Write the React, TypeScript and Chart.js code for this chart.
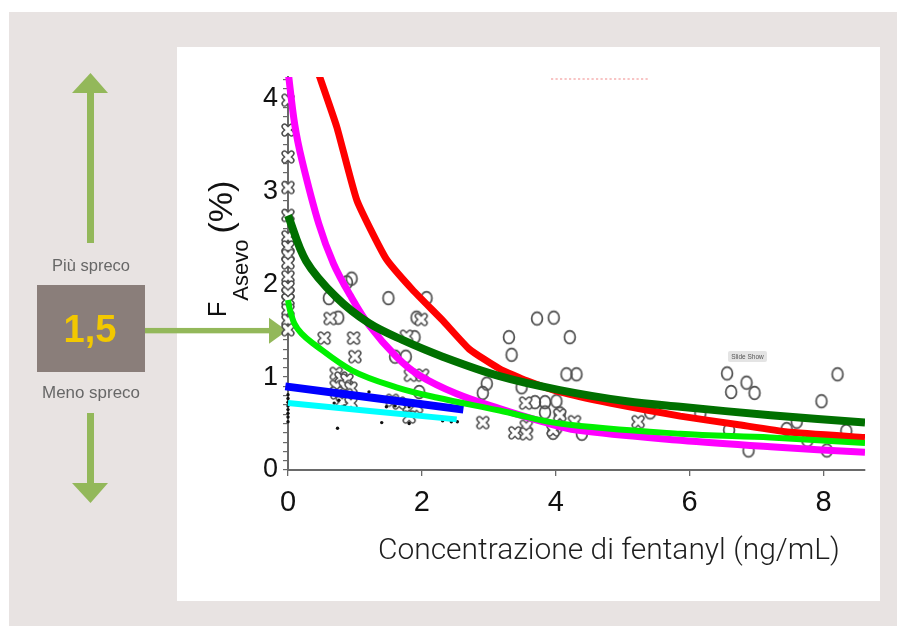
import React, { useEffect, useRef } from 'react';
import { Chart, registerables } from 'chart.js';

Chart.register(...registerables);

const CANVAS_W = 897;
const CANVAS_H = 626;

// axis ranges and ticks
const xMin = 0;
const xMax = 8.62;
const xStep = 2;
const yMin = 0;
const yMax = 4.23;
const yMinorStep = 0.1;

// texts
const xAxisTitle = 'Concentrazione di fentanyl (ng/mL)';
const yTitleMain = 'F';
const yTitleSub = 'Asevo';
const yTitleUnit = '(%)';
const labelMore = 'Più spreco';
const labelLess = 'Meno spreco';
const thresholdLabel = '1,5';
const thresholdValue = 1.5;
const tooltipText = 'Slide Show';

// fitted curves [x, y]
const redCurve = [
  [0.44, 4.3], [0.73, 3.69], [1.03, 2.9], [1.46, 2.28], [1.86, 1.94], [2.31, 1.61],
  [2.71, 1.3], [3.16, 1.09], [3.57, 0.96], [4.06, 0.84], [4.81, 0.72],
  [5.86, 0.58], [6.71, 0.49], [7.46, 0.41], [8.62, 0.35],
];
const magentaCurve = [
  [0, 4.3], [0.1, 3.72], [0.21, 3.33], [0.46, 2.65], [0.68, 2.22], [0.93, 1.88],
  [1.21, 1.56], [1.62, 1.22], [1.96, 1.02], [2.52, 0.82], [3.16, 0.66], [3.8, 0.52],
  [4.31, 0.43], [5.86, 0.32], [7.21, 0.25], [8.62, 0.19],
];
const darkGreenCurve = [
  [0, 2.74], [0.27, 2.25], [0.72, 1.86], [1.21, 1.58], [1.71, 1.4], [2.31, 1.22],
  [3.16, 1.01], [4.06, 0.86], [5.06, 0.74], [5.86, 0.68], [7.21, 0.59], [8.62, 0.51],
];
const limeCurve = [
  [0, 1.83], [0.03, 1.72], [0.1, 1.57], [0.2, 1.47], [0.36, 1.37], [0.96, 1.07],
  [1.62, 0.89], [2.22, 0.78], [3.16, 0.64], [4.06, 0.5], [5.86, 0.39], [7.21, 0.35],
  [8.62, 0.29],
];
const blueLine = [[-0.04, 0.9], [2.62, 0.65]];
const cyanLine = [[0, 0.72], [2.52, 0.545]];

// observations
const circlePoints = [
  [0.88, 2.02], [0.95, 2.06], [0.61, 1.85], [1.5, 1.85], [2.07, 1.85], [0.75, 1.64],
  [1.92, 1.64], [1.89, 1.43], [1.6, 1.22], [1.76, 1.22], [2.97, 0.93], [2.91, 0.83],
  [1.96, 0.84], [3.72, 1.63], [3.97, 1.64], [3.3, 1.43], [4.21, 1.43], [3.34, 1.24],
  [4.16, 1.03], [4.31, 1.03], [3.49, 0.89], [3.69, 0.73], [3.84, 0.73], [4.01, 0.74],
  [3.84, 0.62], [4.06, 0.61], [4.01, 0.45], [4.39, 0.39], [3.96, 0.4], [5.41, 0.62],
  [6.56, 1.04], [6.85, 0.94], [6.62, 0.84], [6.97, 0.83], [8.21, 1.03], [7.97, 0.74],
  [6.16, 0.61], [6.59, 0.43], [6.88, 0.21], [7.45, 0.44], [7.6, 0.52], [7.76, 0.32],
  [8.05, 0.21], [8.34, 0.42],
];
const crossPoints = [
  [0, 3.98], [0, 3.66], [0, 3.37], [0, 3.04], [0, 2.74], [0, 2.51], [0, 2.4], [0, 2.31],
  [0, 2.23], [0, 2.08], [0, 1.97], [0, 1.9], [0, 1.83], [0, 1.72], [0, 1.61], [0, 1.51],
  [0.63, 1.63], [0.54, 1.42], [0.98, 1.42], [1.0, 1.22], [0.72, 1.04], [0.79, 0.99],
  [0.88, 0.97], [0.72, 0.9], [0.85, 0.9], [0.94, 0.88], [0.73, 0.83], [0.87, 0.81],
  [0.81, 0.73], [0.94, 0.72], [1.77, 1.44], [1.83, 1.02], [2.01, 1.02], [1.99, 1.62],
  [1.56, 0.75], [1.66, 0.72], [1.81, 0.68], [1.92, 0.68], [1.81, 0.57], [2.91, 0.51],
  [3.55, 0.72], [3.56, 0.47], [3.39, 0.4], [3.56, 0.39], [4.06, 0.59], [4.28, 0.52],
  [3.96, 0.43], [5.23, 0.52],
];
const dotPoints = [
  [0, 0.52], [0, 0.57], [0, 0.61], [0, 0.65], [0, 0.69], [0, 0.73], [0, 0.77], [0, 0.81],
  [0.74, 0.45], [1.4, 0.51], [1.81, 0.5], [2.31, 0.53], [2.44, 0.52], [2.53, 0.52],
  [1.21, 0.84], [1.47, 0.68], [0.69, 0.72], [0.76, 0.75], [0.84, 0.69], [1.81, 0.68],
  [1.6, 0.69],
];

const BEIGE = '#e8e3e2';
const BOX = '#8a7e7a';
const ARROW = '#93b85a';
const YELLOW = '#f2c800';
const AXIS = '#6a6a6a';

const toXY = (arr: number[][]) => arr.map(([x, y]) => ({ x, y }));

function fitSize(ctx: CanvasRenderingContext2D, text: string, weight: string, family: string, target: number) {
  ctx.font = `${weight} 100px ${family}`;
  const w = ctx.measureText(text).width;
  return (100 * target) / w;
}

function makeCircleImg() {
  const c = document.createElement('canvas');
  c.width = 16;
  c.height = 18;
  const g = c.getContext('2d')!;
  g.strokeStyle = '#4d4d4d';
  g.lineWidth = 1.7;
  g.beginPath();
  g.ellipse(8, 9, 5.4, 6.4, 0, 0, Math.PI * 2);
  g.stroke();
  return c;
}

function makeCrossImg() {
  const c = document.createElement('canvas');
  c.width = 16;
  c.height = 16;
  const g = c.getContext('2d')!;
  g.lineCap = 'round';
  const path = () => {
    g.beginPath();
    g.moveTo(4.5, 4.5);
    g.lineTo(11.5, 11.5);
    g.moveTo(11.5, 4.5);
    g.lineTo(4.5, 11.5);
  };
  g.strokeStyle = '#4d4d4d';
  g.lineWidth = 6.2;
  path();
  g.stroke();
  g.strokeStyle = '#ffffff';
  g.lineWidth = 3.2;
  path();
  g.stroke();
  return c;
}

const decorPlugin = {
  id: 'decor',
  beforeDraw(chart: any) {
    const ctx: CanvasRenderingContext2D = chart.ctx;
    ctx.save();
    ctx.fillStyle = '#ffffff';
    ctx.fillRect(0, 0, CANVAS_W, CANVAS_H);
    ctx.fillStyle = BEIGE;
    ctx.fillRect(9, 12, CANVAS_W - 9, CANVAS_H - 12);
    ctx.fillStyle = '#ffffff';
    ctx.fillRect(177, 47, 880 - 177, 601 - 47);

    // up arrow
    ctx.fillStyle = ARROW;
    ctx.fillRect(87, 92, 7, 243 - 92);
    ctx.beginPath();
    ctx.moveTo(72, 93);
    ctx.lineTo(108, 93);
    ctx.lineTo(90.5, 73);
    ctx.closePath();
    ctx.fill();
    // down arrow
    ctx.fillRect(87, 413, 7, 484 - 413);
    ctx.beginPath();
    ctx.moveTo(72, 483);
    ctx.lineTo(108, 483);
    ctx.lineTo(90.5, 503);
    ctx.closePath();
    ctx.fill();

    // box
    ctx.fillStyle = BOX;
    ctx.fillRect(37, 285, 108, 87);

    // horizontal arrow to the threshold on the y axis
    const yScale = chart.scales.y;
    const xScale = chart.scales.x;
    const ay = yScale.getPixelForValue(thresholdValue);
    const tipX = xScale.getPixelForValue(0) - 1;
    ctx.fillStyle = ARROW;
    ctx.fillRect(145, ay - 2.7, tipX - 16 - 145, 5.4);
    ctx.beginPath();
    ctx.moveTo(tipX - 18, ay - 13);
    ctx.lineTo(tipX - 18, ay + 13);
    ctx.lineTo(tipX, ay);
    ctx.closePath();
    ctx.fill();

    // left labels
    ctx.textAlign = 'center';
    ctx.textBaseline = 'alphabetic';
    ctx.fillStyle = '#676767';
    let s = fitSize(ctx, labelMore, '400', '"Liberation Sans"', 78);
    ctx.font = `400 ${s}px "Liberation Sans"`;
    ctx.fillText(labelMore, 91, 271);
    s = fitSize(ctx, labelLess, '400', '"Liberation Sans"', 98);
    ctx.font = `400 ${s}px "Liberation Sans"`;
    ctx.fillText(labelLess, 91, 398);
    ctx.fillStyle = YELLOW;
    s = fitSize(ctx, thresholdLabel, '700', '"Liberation Sans"', 53);
    ctx.font = `700 ${s}px "Liberation Sans"`;
    ctx.fillText(thresholdLabel, 90, 342);

    // faint dotted line at top
    ctx.fillStyle = '#f8c4c4';
    for (let x = 551; x < 650; x += 4.5) ctx.fillRect(x, 78, 2.2, 2);

    // small tooltip
    ctx.fillStyle = '#e4e4e4';
    ctx.beginPath();
    (ctx as any).roundRect(728, 351, 39, 11, 2);
    ctx.fill();
    ctx.fillStyle = '#555';
    ctx.font = '400 6.5px "Liberation Sans"';
    ctx.textBaseline = 'middle';
    ctx.fillText(tooltipText, 747.5, 356.8);

    // x axis title
    ctx.textAlign = 'left';
    ctx.textBaseline = 'alphabetic';
    ctx.fillStyle = '#1e1e1e';
    s = fitSize(ctx, xAxisTitle, '300', 'Roboto', 462);
    ctx.font = `300 ${s}px Roboto`;
    ctx.fillText(xAxisTitle, 378, 559);

    // y axis title (rotated)
    ctx.save();
    ctx.rotate(-Math.PI / 2);
    ctx.fillStyle = '#111';
    ctx.font = '400 25px "Liberation Sans"';
    let u = -317;
    ctx.fillText(yTitleMain, u, 226);
    u += ctx.measureText(yTitleMain).width + 1;
    ctx.font = '400 22px "Liberation Sans"';
    ctx.fillText(yTitleSub, u, 247.5);
    u += ctx.measureText(yTitleSub).width + 6;
    ctx.font = '400 34px "Liberation Sans"';
    ctx.fillText(yTitleUnit, u, 231.5);
    ctx.restore();

    ctx.restore();
  },
};

export default function App() {
  const ref = useRef<HTMLCanvasElement>(null);
  useEffect(() => {
    const canvas = ref.current;
    if (!canvas) return;
    const circleImg = makeCircleImg();
    const crossImg = makeCrossImg();
    const curveBase = {
      type: 'line' as const,
      showLine: true,
      pointRadius: 0,
      pointHoverRadius: 0,
      fill: false,
      tension: 0.35,
      borderCapStyle: 'butt' as const,
      borderJoinStyle: 'round' as const,
      clip: { left: 6, top: 0, right: 0, bottom: 0 },
    };
    const chart = new Chart(canvas, {
      type: 'scatter',
      data: {
        datasets: [
          { ...curveBase, label: 'lime', data: toXY(limeCurve), borderColor: '#00f000', borderWidth: 6, order: 1 },
          { ...curveBase, label: 'darkgreen', data: toXY(darkGreenCurve), borderColor: '#007000', borderWidth: 8, order: 2 },
          { ...curveBase, label: 'blue', data: toXY(blueLine), borderColor: '#0000ff', borderWidth: 8, order: 3 },
          { ...curveBase, label: 'cyan', data: toXY(cyanLine), borderColor: '#00ffff', borderWidth: 6, order: 4 },
          { ...curveBase, label: 'magenta', data: toXY(magentaCurve), borderColor: '#ff00ff', borderWidth: 7, order: 5 },
          { ...curveBase, label: 'red', data: toXY(redCurve), borderColor: '#ff0000', borderWidth: 7, tension: 0.15, order: 6 },
          {
            label: 'dots', data: toXY(dotPoints), pointStyle: 'circle', pointRadius: 1.7,
            pointBackgroundColor: '#111', pointBorderWidth: 0, clip: false as any, order: 18,
          },
          { label: 'crosses', data: toXY(crossPoints), pointStyle: crossImg as any, clip: false as any, order: 19 },
          { label: 'circles', data: toXY(circlePoints), pointStyle: circleImg as any, clip: false as any, order: 20 },
        ] as any,
      },
      options: {
        responsive: false,
        devicePixelRatio: 1,
        animation: false,
        events: [],
        layout: { padding: { left: 0, right: CANVAS_W - 865, top: 77, bottom: 0 } },
        plugins: { legend: { display: false }, tooltip: { enabled: false } },
        scales: {
          x: {
            type: 'linear',
            min: xMin,
            max: xMax,
            afterFit: (sc: any) => { sc.height = CANVAS_H - 470; },
            grid: { display: true, drawOnChartArea: false, drawTicks: true, tickLength: 6, color: AXIS, lineWidth: 1.3 },
            border: { display: true, color: AXIS, width: 2 },
            ticks: {
              stepSize: xStep,
              includeBounds: false,
              maxRotation: 0,
              autoSkip: false,
              padding: 10,
              color: '#111',
              font: { family: '"Liberation Sans"', size: 29 },
            },
          },
          y: {
            type: 'linear',
            min: yMin,
            max: yMax,
            afterFit: (sc: any) => { sc.width = 288; },
            grid: { display: true, drawOnChartArea: false, drawTicks: true, tickLength: 5, color: AXIS, lineWidth: 1.2 },
            border: { display: true, color: AXIS, width: 2 },
            ticks: {
              stepSize: yMinorStep,
              includeBounds: false,
              autoSkip: false,
              padding: 5,
              color: '#111',
              font: { family: '"Liberation Sans"', size: 27 },
              callback: (v: any) => (Math.abs(v - Math.round(v)) < 1e-6 ? String(Math.round(v)) : ''),
            },
          },
        },
      } as any,
      plugins: [decorPlugin],
    });
    return () => chart.destroy();
  }, []);

  return (
    <div style={{ position: 'absolute', left: 0, top: 0, width: CANVAS_W, height: CANVAS_H }}>
      <canvas ref={ref} width={CANVAS_W} height={CANVAS_H} style={{ display: 'block', width: CANVAS_W, height: CANVAS_H }} />
    </div>
  );
}
